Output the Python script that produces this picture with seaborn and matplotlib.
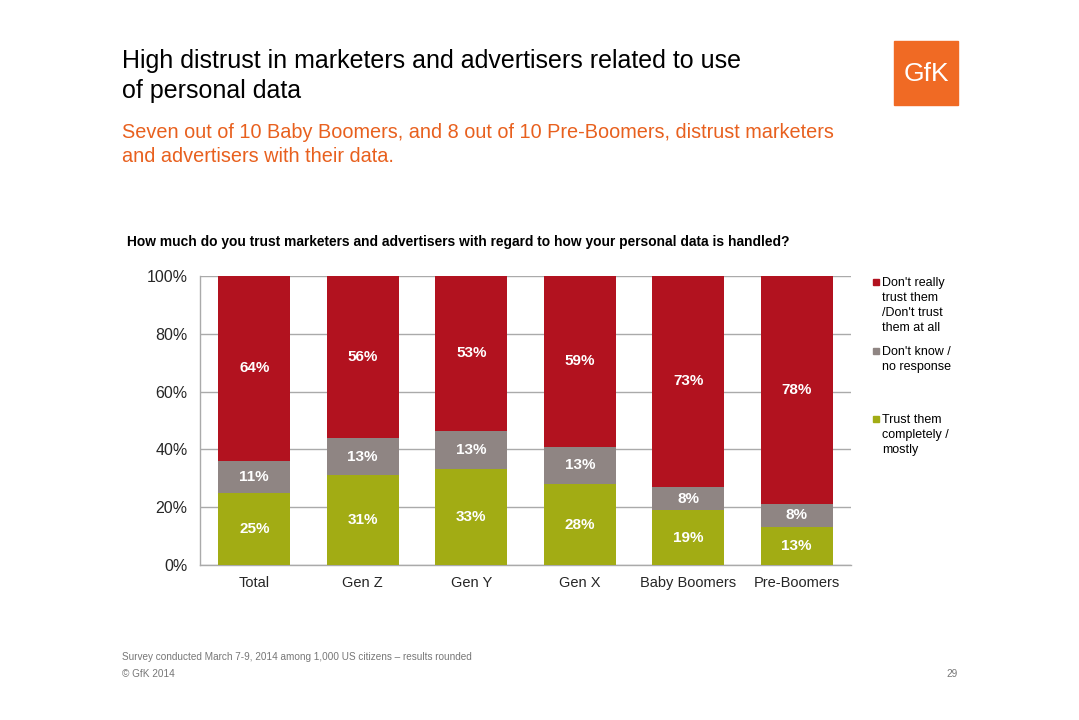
import numpy as np
import pandas as pd
import matplotlib
matplotlib.use("Agg")
import matplotlib.pyplot as plt
from matplotlib.patches import Rectangle
import seaborn as sns

categories = ["Total", "Gen Z", "Gen Y", "Gen X", "Baby Boomers", "Pre-Boomers"]
trust = [25, 31, 33, 28, 19, 13]
dont_know = [11, 13, 13, 13, 8, 8]
distrust = [64, 56, 53, 59, 73, 78]
series_names = ["Don't really\ntrust them\n/Don't trust\nthem at all",
                "Don't know /\nno response",
                "Trust them\ncompletely /\nmostly"]
yticks = [0, 20, 40, 60, 80, 100]
ytick_labels = ["0%", "20%", "40%", "60%", "80%", "100%"]

RED = "#B2121F"
GRAY = "#8F8583"
GREEN = "#A2AC14"
ORANGE = "#E8601E"

sns.set_style("white")
plt.rcParams["font.family"] = ["Liberation Sans", "DejaVu Sans"]

df = pd.DataFrame({"cat": categories, "trust": trust, "dk": dont_know, "dis": distrust})
tot = df[["trust", "dk", "dis"]].sum(axis=1)
df["trust_s"] = df["trust"] / tot * 100
df["dk_s"] = df["dk"] / tot * 100
df["dis_s"] = df["dis"] / tot * 100
df["c1"] = df["trust_s"]
df["c2"] = df["trust_s"] + df["dk_s"]
df["c3"] = df["c2"] + df["dis_s"]

fig = plt.figure(figsize=(10.79, 7.2), dpi=100)
ax = fig.add_axes([200/1079, 1-565/720, 651/1079, 289/720])

for col, color in [("c3", RED), ("c2", GRAY), ("c1", GREEN)]:
    sns.barplot(data=df, x="cat", y=col, color=color, saturation=1, width=0.66,
                ax=ax, zorder=3, linewidth=0)

for i, row in df.iterrows():
    for lo, hi, v in [(0, row["c1"], row["trust"]), (row["c1"], row["c2"], row["dk"]),
                      (row["c2"], row["c3"], row["dis"])]:
        ax.text(i, (lo + hi) / 2, f"{v}%", ha="center", va="center", color="white",
                fontsize=11, fontweight="bold", zorder=5)

ax.set_xlim(-0.5, 5.5)
ax.set_ylim(0, 100)
ax.set_yticks(yticks)
ax.set_yticklabels(ytick_labels, fontsize=11.5)
ax.yaxis.grid(True, color="#AAAAAA", linewidth=1, zorder=0)
ax.set_axisbelow(True)
ax.set_xlabel("")
ax.set_ylabel("")
ax.tick_params(axis="x", labelsize=10.5, length=0, pad=8)
ax.tick_params(axis="y", length=0, pad=9)
for s in ["top", "right"]:
    ax.spines[s].set_visible(False)
for s in ["left", "bottom"]:
    ax.spines[s].set_color("#AAAAAA")
    ax.spines[s].set_linewidth(1)

# Titles
fig.text(122/1079, 1-49/720, "High distrust in marketers and advertisers related to use\nof personal data",
         fontsize=18, va="top", ha="left", color="black", linespacing=1.32)
fig.text(122/1079, 1-123/720,
         "Seven out of 10 Baby Boomers, and 8 out of 10 Pre-Boomers, distrust marketers\nand advertisers with their data.",
         fontsize=14.3, va="top", ha="left", color=ORANGE, linespacing=1.3)
fig.text(127/1079, 1-242/720,
         "How much do you trust marketers and advertisers with regard to how your personal data is handled?",
         fontsize=9.9, fontweight="bold", va="center", ha="left", color="black")

# Legend
leg = [(RED, series_names[0], 282), (GRAY, series_names[1], 351), (GREEN, series_names[2], 419)]
for color, name, ypix in leg:
    fig.patches.append(Rectangle((873/1079, 1-(ypix+3)/720), 6/1079, 6/720,
                                 transform=fig.transFigure, color=color, figure=fig))
    fig.text(882/1079, 1-(ypix-5)/720, name, fontsize=9, va="top", ha="left",
             color="black", linespacing=1.32)

# Logo
fig.patches.append(Rectangle((894/1079, 1-105/720), 64/1079, 64/720,
                             transform=fig.transFigure, color="#F06A24", figure=fig))
fig.text(926/1079, 1-74/720, "GfK", fontsize=19, color="white", ha="center", va="center")

# Footer
fig.text(122/1079, 1-657/720, "Survey conducted March 7-9, 2014 among 1,000 US citizens \u2013 results rounded",
         fontsize=7.2, color="#777777", va="center", ha="left")
fig.text(122/1079, 1-674/720, "\u00a9 GfK 2014", fontsize=7.2, color="#777777", va="center", ha="left")
fig.text(958/1079, 1-674/720, "29", fontsize=7.2, color="#777777", va="center", ha="right")

fig.savefig("out.png", dpi=100)
